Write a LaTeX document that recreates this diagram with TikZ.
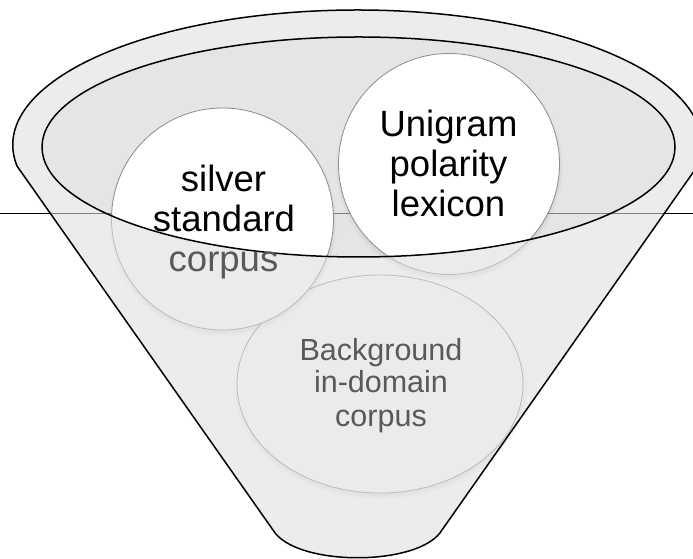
\documentclass[tikz,border=0pt]{standalone}
\usepackage{fontspec}
\setmainfont{Liberation Sans}
\usetikzlibrary{shapes.geometric,shadows}
\definecolor{rimgray}{gray}{0.83}
\definecolor{wallgray}{gray}{0.87}
\definecolor{lowtext}{HTML}{595959}
\definecolor{bubbleedge}{HTML}{8C8C8C}
\newcommand\funnelpath{(17,393) arc[start angle=188.95,end angle=-8.95,x radius=344.5,y radius=135] -- (442,29) .. controls (420,-8) and (295,-8) .. (273,29) -- cycle}
\begin{document}
\begin{tikzpicture}[x=1pt,y=1pt,
  bubble/.style={draw=bubbleedge, line width=0.8pt, fill=white, inner sep=0pt,
    circular drop shadow={shadow scale=1.03, shadow xshift=0pt, shadow yshift=-3pt, opacity=0.55}},
  bigtext/.style={anchor=base, inner sep=0pt, font=\fontsize{36.5}{40}\selectfont, text=black},
  smalltext/.style={anchor=base, inner sep=0pt, font=\fontsize{30.5}{33}\selectfont, text=lowtext},
  outline/.style={line width=1.5pt, line join=round}
]
\useasboundingbox (0,0) rectangle (693,559);
% horizontal line behind everything
\coordinate (lineL) at (0,345);
\coordinate (lineR) at (693,345);
\draw[line width=1pt] (lineL) -- (lineR);
% opening of the funnel (inside of inner rim)
\fill[rimgray, fill opacity=0.6] (358.5,412) ellipse[x radius=316.5, y radius=110];
% bubbles
\node[bubble, ellipse, minimum width=286pt, minimum height=218pt] (background) at (380,175) {};
\node[bubble, circle, minimum size=222pt] (silver) at (222.5,340) {};
\node[bubble, circle, minimum size=221pt] (unigram) at (449,395) {};
% front wall of the funnel (semi-transparent)
\fill[wallgray, fill opacity=0.575, even odd rule] \funnelpath (358.5,412) ellipse[x radius=316.5, y radius=110];
% outlines
\draw[outline] \funnelpath;
\draw[outline] (358.5,412) ellipse[x radius=316.5, y radius=110];
% texts
\node[bigtext] (s1) at (223.5,367) {silver};
\node[bigtext] (s2) at (224,327) {standard};
\node[bigtext, text=lowtext] (s3) at (223.5,287) {corpus};
\node[bigtext] (u1) at (448.5,422) {Unigram};
\node[bigtext] (u2) at (448.5,382) {polarity};
\node[bigtext] (u3) at (448.5,342) {lexicon};
\node[smalltext] (b1) at (381,198.5) {Background};
\node[smalltext] (b2) at (381,166.3) {in-domain};
\node[smalltext] (b3) at (381,132.3) {corpus};
\end{tikzpicture}
\end{document}
